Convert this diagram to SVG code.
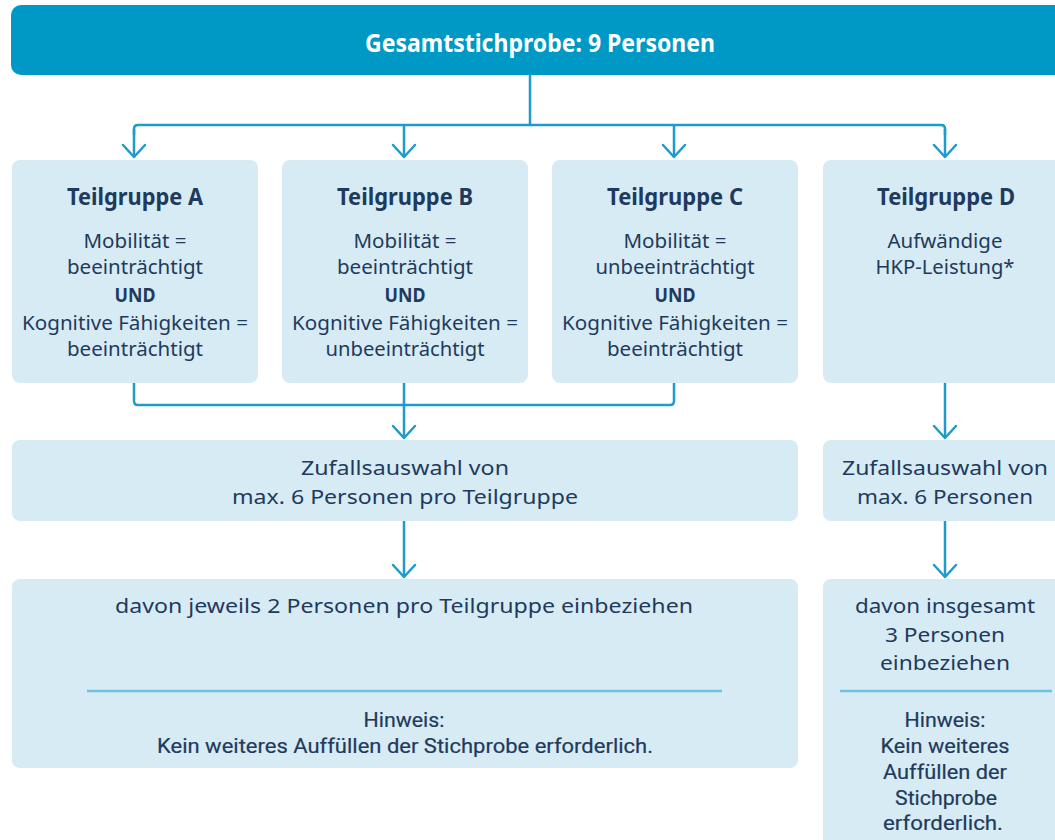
<svg xmlns="http://www.w3.org/2000/svg" width="1055" height="840" viewBox="0 0 1055 840">
<style>
.box{fill:#d6ebf4}
.top{fill:#0099c6}
.t{font-family:"Noto Sans","DejaVu Sans",sans-serif;font-size:20px;fill:#1f3a5c;text-anchor:middle}
.b{font-weight:bold}
.h{font-family:Roboto,"Noto Sans",sans-serif;font-size:21px;font-weight:400;fill:#1f3a5c;stroke:#1f3a5c;stroke-width:0.2;text-anchor:middle}
.title{font-family:"Noto Sans","DejaVu Sans",sans-serif;font-size:25px;font-weight:bold;fill:#ffffff;text-anchor:middle}
.hd{font-size:23px;font-weight:bold}
.c{fill:none;stroke:#1e9bcb;stroke-width:2.5}
.sep{stroke:#6cc3e3;stroke-width:2.5}
</style>
<defs>
<marker id="arr" markerUnits="userSpaceOnUse" markerWidth="30" markerHeight="30" refX="0" refY="0" orient="auto" overflow="visible">
<path d="M-12,-11 L0,0 L-12,11" fill="none" stroke="#1e9bcb" stroke-width="2.5" stroke-linecap="round" stroke-linejoin="round"/>
</marker>
</defs>

<g id="gesamt">
<rect class="top" x="11" y="5" width="1070" height="70" rx="10"/>
<text class="title" x="540" y="52" textLength="350" lengthAdjust="spacingAndGlyphs">Gesamtstichprobe: 9 Personen</text>
</g>

<g id="teilgruppe-a">
<rect class="box" x="12" y="160" width="246" height="223" rx="8"/>
<text class="t hd" x="135" y="205" textLength="136" lengthAdjust="spacingAndGlyphs">Teilgruppe A</text>
<text class="t" x="135" y="248" textLength="103" lengthAdjust="spacingAndGlyphs">Mobilität =</text>
<text class="t" x="135" y="274" textLength="136" lengthAdjust="spacingAndGlyphs">beeinträchtigt</text>
<text class="t b" x="135" y="302" textLength="41" lengthAdjust="spacingAndGlyphs">UND</text>
<text class="t" x="135" y="330" textLength="226" lengthAdjust="spacingAndGlyphs">Kognitive Fähigkeiten =</text>
<text class="t" x="135" y="356" textLength="136" lengthAdjust="spacingAndGlyphs">beeinträchtigt</text>
</g>

<g id="teilgruppe-b">
<rect class="box" x="282" y="160" width="246" height="223" rx="8"/>
<text class="t hd" x="405" y="205" textLength="136" lengthAdjust="spacingAndGlyphs">Teilgruppe B</text>
<text class="t" x="405" y="248" textLength="103" lengthAdjust="spacingAndGlyphs">Mobilität =</text>
<text class="t" x="405" y="274" textLength="136" lengthAdjust="spacingAndGlyphs">beeinträchtigt</text>
<text class="t b" x="405" y="302" textLength="41" lengthAdjust="spacingAndGlyphs">UND</text>
<text class="t" x="405" y="330" textLength="226" lengthAdjust="spacingAndGlyphs">Kognitive Fähigkeiten =</text>
<text class="t" x="405" y="356" textLength="159" lengthAdjust="spacingAndGlyphs">unbeeinträchtigt</text>
</g>

<g id="teilgruppe-c">
<rect class="box" x="552" y="160" width="246" height="223" rx="8"/>
<text class="t hd" x="675" y="205" textLength="136" lengthAdjust="spacingAndGlyphs">Teilgruppe C</text>
<text class="t" x="675" y="248" textLength="103" lengthAdjust="spacingAndGlyphs">Mobilität =</text>
<text class="t" x="675" y="274" textLength="159" lengthAdjust="spacingAndGlyphs">unbeeinträchtigt</text>
<text class="t b" x="675" y="302" textLength="41" lengthAdjust="spacingAndGlyphs">UND</text>
<text class="t" x="675" y="330" textLength="226" lengthAdjust="spacingAndGlyphs">Kognitive Fähigkeiten =</text>
<text class="t" x="675" y="356" textLength="136" lengthAdjust="spacingAndGlyphs">beeinträchtigt</text>
</g>

<g id="teilgruppe-d">
<rect class="box" x="823" y="160" width="260" height="223" rx="8"/>
<text class="t hd" x="946" y="205" textLength="138" lengthAdjust="spacingAndGlyphs">Teilgruppe D</text>
<text class="t" x="945" y="248" textLength="115" lengthAdjust="spacingAndGlyphs">Aufwändige</text>
<text class="t" x="945" y="274" textLength="139" lengthAdjust="spacingAndGlyphs">HKP-Leistung*</text>
</g>

<g id="zufall-abc">
<rect class="box" x="12" y="440" width="786" height="81" rx="8"/>
<text class="t" x="405" y="475" textLength="208" lengthAdjust="spacingAndGlyphs">Zufallsauswahl von</text>
<text class="t" x="405" y="504" textLength="346" lengthAdjust="spacingAndGlyphs">max. 6 Personen pro Teilgruppe</text>
</g>

<g id="zufall-d">
<rect class="box" x="823" y="440" width="260" height="81" rx="8"/>
<text class="t" x="945" y="475" textLength="206" lengthAdjust="spacingAndGlyphs">Zufallsauswahl von</text>
<text class="t" x="945" y="504" textLength="176" lengthAdjust="spacingAndGlyphs">max. 6 Personen</text>
</g>

<g id="einbeziehen-abc">
<rect class="box" x="12" y="579" width="786" height="189" rx="8"/>
<text class="t" x="404" y="613" textLength="578" lengthAdjust="spacingAndGlyphs">davon jeweils 2 Personen pro Teilgruppe einbeziehen</text>
<line class="sep" x1="87" y1="691" x2="722" y2="691"/>
<text class="h" x="404" y="727" textLength="81" lengthAdjust="spacingAndGlyphs">Hinweis:</text>
<text class="h" x="405" y="753" textLength="496" lengthAdjust="spacingAndGlyphs">Kein weiteres Auffüllen der Stichprobe erforderlich.</text>
</g>

<g id="einbeziehen-d">
<rect class="box" x="823" y="579" width="260" height="290" rx="8"/>
<text class="t" x="945" y="613" textLength="180" lengthAdjust="spacingAndGlyphs">davon insgesamt</text>
<text class="t" x="945" y="642" textLength="120" lengthAdjust="spacingAndGlyphs">3 Personen</text>
<text class="t" x="945" y="670" textLength="130" lengthAdjust="spacingAndGlyphs">einbeziehen</text>
<line class="sep" x1="840" y1="691" x2="1052" y2="691"/>
<text class="h" x="945" y="727" textLength="81" lengthAdjust="spacingAndGlyphs">Hinweis:</text>
<text class="h" x="945" y="753" textLength="129" lengthAdjust="spacingAndGlyphs">Kein weiteres</text>
<text class="h" x="945" y="779" textLength="124" lengthAdjust="spacingAndGlyphs">Auffüllen der</text>
<text class="h" x="946" y="805" textLength="102" lengthAdjust="spacingAndGlyphs">Stichprobe</text>
<text class="h" x="943" y="830" textLength="120" lengthAdjust="spacingAndGlyphs">erforderlich.</text>
</g>

<g id="connectors">
<path class="c" d="M530,75 V125"/>
<path class="c" d="M134,135 V129 Q134,125 138,125 H941 Q945,125 945,129 V135"/>
<path class="c" d="M134,129 V157" marker-end="url(#arr)"/>
<path class="c" d="M404,125 V157" marker-end="url(#arr)"/>
<path class="c" d="M674,125 V157" marker-end="url(#arr)"/>
<path class="c" d="M945,129 V157" marker-end="url(#arr)"/>
<path class="c" d="M134,383 V401 Q134,405 138,405 H670 Q674,405 674,401 V383"/>
<path class="c" d="M404,383 V438" marker-end="url(#arr)"/>
<path class="c" d="M945,383 V438" marker-end="url(#arr)"/>
<path class="c" d="M404,521 V577" marker-end="url(#arr)"/>
<path class="c" d="M945,521 V577" marker-end="url(#arr)"/>
</g>
</svg>
